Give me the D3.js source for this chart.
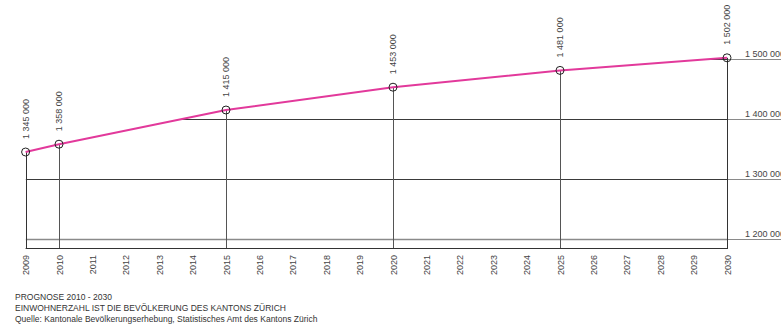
<!DOCTYPE html>
<html>
<head>
<meta charset="utf-8">
<script src="https://cdn.jsdelivr.net/npm/d3@7"></script>
<style>
  html, body { margin: 0; padding: 0; background: #fff; }
  svg { display: block; font-family: "Liberation Sans", Arial, sans-serif; }
</style>
</head>
<body>
<svg id="chart" width="781" height="326"></svg>
<script>
// Einwohnerzahl Kanton Zürich, Prognose 2010 - 2030
const years = [2009, 2010, 2015, 2020, 2025, 2030];
const population = [1345000, 1358000, 1415000, 1453000, 1481000, 1502000];
const axisYears = d3.range(2009, 2031);
const gridValues = [1200000, 1300000, 1400000, 1500000];
const notes = [
  "PROGNOSE 2010 - 2030",
  "EINWOHNERZAHL IST DIE BEVÖLKERUNG DES KANTONS ZÜRICH",
  "Quelle: Kantonale Bevölkerungserhebung, Statistisches Amt des Kantons Zürich"
];

const svg = d3.select("#chart");
const W = 781;

const x = d3.scaleLinear().domain([2010, 2030]).range([59, 727]);
const y = d3.scaleLinear().domain([1185000, 1600000]).range([248, -1]);
const fmt = d3.formatLocale({ decimal: ".", thousands: " ", grouping: [3], currency: ["", ""] }).format(",d");

const data = years.map((yr, i) => ({ year: yr, value: population[i] }));
const x0 = x(years[0]), x1 = x(years[years.length - 1]);
const yBottom = y.range()[0];

// area below the curve: gridlines are only visible inside it
const area = d3.area().x(d => x(d.year)).y0(yBottom).y1(d => y(d.value));
svg.append("clipPath").attr("id", "under")
  .append("path").attr("d", area(data));

const grid = svg.append("g");
// gridlines inside the area
grid.append("g").attr("clip-path", "url(#under)")
  .selectAll("line").data(gridValues).join("line")
  .attr("x1", x0).attr("x2", x1)
  .attr("y1", d => y(d) + 0.5).attr("y2", d => y(d) + 0.5)
  .attr("stroke", d => d === 1200000 ? "#8a8a8a" : "#3a3a3a")
  .attr("stroke-width", d => d === 1200000 ? 1.4 : 1);

// gridline extensions towards the value labels on the right
grid.append("g").selectAll("line").data(gridValues).join("line")
  .attr("x1", x1).attr("x2", W)
  .attr("y1", d => y(d) + 0.5).attr("y2", d => y(d) + 0.5)
  .attr("stroke", "#8a8a8a").attr("stroke-width", 1.2);

grid.append("g").selectAll("text").data(gridValues).join("text")
  .attr("x", 745).attr("y", d => y(d) - 2)
  .attr("font-size", 9).attr("fill", "#444")
  .text(d => fmt(d));

// vertical drop lines from each point
svg.append("g").selectAll("line").data(data).join("line")
  .attr("x1", d => Math.round(x(d.year)) + 0.5).attr("x2", d => Math.round(x(d.year)) + 0.5)
  .attr("y1", d => y(d.value)).attr("y2", yBottom)
  .attr("stroke", d => (d.year === years[0] || d.year === years[years.length - 1]) ? "#333" : "#555")
  .attr("stroke-width", 1);

// baseline
svg.append("line")
  .attr("x1", x0).attr("x2", x1 + 1)
  .attr("y1", yBottom + 0.5).attr("y2", yBottom + 0.5)
  .attr("stroke", "#333").attr("stroke-width", 1.2);

// population line
const line = d3.line().x(d => x(d.year)).y(d => y(d.value));
svg.append("path").datum(data)
  .attr("d", line)
  .attr("fill", "none")
  .attr("stroke", "#e2399b")
  .attr("stroke-width", 2);

// point markers
svg.append("g").selectAll("circle").data(data).join("circle")
  .attr("cx", d => x(d.year)).attr("cy", d => y(d.value))
  .attr("r", 4)
  .attr("fill", "none").attr("stroke", "#222").attr("stroke-width", 1);

// value labels
svg.append("g").selectAll("text").data(data).join("text")
  .attr("transform", d => `translate(${x(d.year)},${y(d.value) - 13}) rotate(-90)`)
  .attr("dy", "0.35em")
  .attr("font-size", 9).attr("fill", "#444")
  .text(d => fmt(d.value));

// year labels
svg.append("g").selectAll("text").data(axisYears).join("text")
  .attr("transform", d => `translate(${x(d) + 0.5},255) rotate(-90)`)
  .attr("text-anchor", "end")
  .attr("dy", "0.35em")
  .attr("font-size", 9).attr("fill", "#444")
  .text(d => d);

// notes
svg.append("g").selectAll("text").data(notes).join("text")
  .attr("x", 15).attr("y", (d, i) => 300 + i * 11)
  .attr("font-size", 8.5).attr("fill", "#333")
  .text(d => d);
</script>
</body>
</html>
